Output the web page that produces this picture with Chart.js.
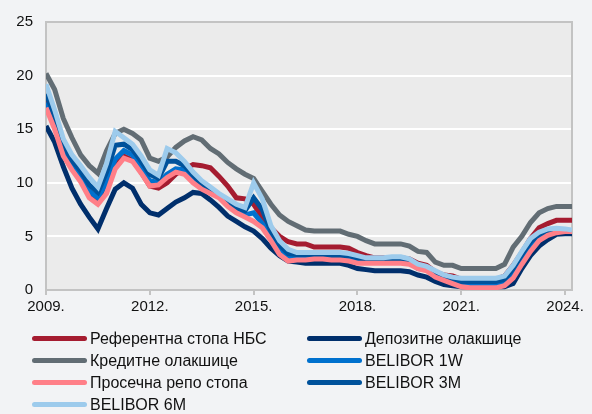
<!DOCTYPE html>
<html>
<head>
<meta charset="utf-8">
<script src="https://cdn.jsdelivr.net/npm/chart.js@4.4.1/dist/chart.umd.min.js"></script>
<style>
  body { margin: 0; background: #f2f3f5; font-family: "Liberation Sans", Arial, sans-serif; }
  #wrap { position: relative; width: 592px; height: 414px; }
  #legend .item { position: absolute; height: 20px; line-height: 20px; font-size: 16px; color: #111; white-space: nowrap; }
  #legend .swatch { position: absolute; left: 0; top: 7px; width: 55px; height: 5px; border-radius: 3px; }
  #legend .label { position: absolute; left: 58px; top: 0; }
</style>
</head>
<body>
<div id="wrap">
  <canvas id="ratesChart" width="592" height="414"></canvas>
  <div id="legend"></div>
</div>
<script>
// quarterly observations (decimal years)
const dates = [
  2009.0, 2009.25, 2009.5, 2009.75, 2010.0, 2010.25, 2010.5, 2010.75,
  2011.0, 2011.25, 2011.5, 2011.75, 2012.0, 2012.25, 2012.5, 2012.75,
  2013.0, 2013.25, 2013.5, 2013.75, 2014.0, 2014.25, 2014.5, 2014.75,
  2015.0, 2015.25, 2015.5, 2015.75, 2016.0, 2016.25, 2016.5, 2016.75,
  2017.0, 2017.25, 2017.5, 2017.75, 2018.0, 2018.25, 2018.5, 2018.75,
  2019.0, 2019.25, 2019.5, 2019.75, 2020.0, 2020.25, 2020.5, 2020.75,
  2021.0, 2021.25, 2021.5, 2021.75, 2022.0, 2022.25, 2022.5, 2022.75,
  2023.0, 2023.25, 2023.5, 2023.75, 2024.0, 2024.2
];

const keyRate = [
  17.75, 16.2, 13.7, 11.8,  10.3, 9.2, 8.2, 10.3,  12.0, 12.5, 12.1, 11.0,
  9.7, 9.5, 10.0, 10.8,  11.3, 11.7, 11.6, 11.4,  10.6, 9.7, 8.6, 8.5,
  8.0, 6.8, 5.8, 5.0,  4.5, 4.3, 4.3, 4.0,  4.0, 4.0, 4.0, 3.9,
  3.5, 3.2, 3.0, 3.0,  3.0, 3.0, 2.9, 2.5,  2.3, 1.7, 1.4, 1.3,
  1.0, 1.0, 1.0, 1.0,  1.0, 1.3, 2.3, 3.5,  4.8, 5.8, 6.2, 6.5,  6.5, 6.5
];
const depositRate = [
  15.3, 13.8, 11.5, 9.5,  8.0, 6.8, 5.7, 7.6,  9.4, 10.0, 9.5, 8.0,
  7.2, 7.0, 7.6, 8.2,  8.6, 9.1, 9.0, 8.4,  7.7, 6.9, 6.4, 5.9,
  5.5, 4.8, 3.9, 3.2,  2.7, 2.6, 2.5, 2.5,  2.5, 2.5, 2.5, 2.3,
  2.0, 1.9, 1.8, 1.8,  1.8, 1.8, 1.7, 1.4,  1.2, 0.8, 0.5, 0.4,
  0.3, 0.3, 0.3, 0.3,  0.3, 0.3, 0.6, 2.0,  3.2, 4.1, 4.7, 5.2,  5.25, 5.25
];
const lendingRate = [
  20.2, 18.7, 16.0, 14.2,  12.6, 11.6, 10.9, 13.0,  14.6, 15.0, 14.6, 14.0,
  12.3, 12.0, 12.4, 13.3,  13.9, 14.3, 14.0, 13.2,  12.7, 11.9, 11.3, 10.8,
  10.4, 9.2, 8.0, 7.0,  6.4, 6.0, 5.6, 5.5,  5.5, 5.5, 5.5, 5.2,
  5.0, 4.6, 4.3, 4.3,  4.3, 4.3, 4.1, 3.6,  3.5, 2.6, 2.3, 2.3,
  2.0, 2.0, 2.0, 2.0,  2.0, 2.4, 4.0, 5.0,  6.3, 7.2, 7.6, 7.8,  7.8, 7.8
];
const belibor1W = [
  17.5, 15.6, 13.0, 11.6,  10.6, 9.2, 8.6, 10.0,  12.2, 13.0, 12.6, 11.3,
  10.2, 10.0, 10.8, 11.3,  11.2, 10.3, 9.6, 9.2,  8.8, 8.0, 7.4, 7.0,
  7.2, 6.2, 5.0, 3.8,  3.1, 3.1, 3.1, 3.1,  3.1, 3.0, 3.0, 3.0,
  2.8, 2.7, 2.7, 2.7,  2.7, 2.7, 2.6, 2.0,  1.9, 1.3, 1.0, 0.8,
  0.6, 0.6, 0.6, 0.6,  0.6, 0.8, 1.6, 2.9,  4.0, 4.9, 5.3, 5.5,  5.5, 5.5
];
const repoRate = [
  17.0, 15.0, 12.5, 11.2,  10.1, 8.6, 8.0, 9.0,  11.3, 12.3, 12.0, 10.9,
  9.7, 9.8, 10.5, 11.0,  10.8, 10.0, 9.4, 9.0,  8.6, 7.8, 7.2, 6.8,
  6.4, 5.8, 4.6, 3.3,  2.7, 2.8, 2.8, 2.9,  2.9, 2.8, 2.8, 2.7,
  2.5, 2.5, 2.5, 2.5,  2.5, 2.5, 2.4, 2.0,  1.8, 1.2, 0.9, 0.6,
  0.3, 0.2, 0.2, 0.2,  0.2, 0.4, 1.1, 2.4,  3.6, 4.6, 5.1, 5.35,  5.45, 5.45
];
const belibor3M = [
  18.3, 16.2, 13.6, 12.1,  11.1, 9.8, 9.1, 11.0,  13.5, 13.6, 13.1, 12.0,
  10.8, 10.4, 12.0, 12.0,  11.6, 10.7, 9.9, 9.4,  8.9, 8.3, 7.7, 7.4,
  8.6, 7.5, 5.5, 4.2,  3.4, 3.3, 3.3, 3.3,  3.3, 3.2, 3.2, 3.2,
  3.0, 2.9, 2.9, 2.9,  2.9, 2.9, 2.7, 2.2,  2.0, 1.5, 1.2, 1.0,
  0.8, 0.8, 0.8, 0.8,  0.8, 1.0, 2.0, 3.3,  4.5, 5.2, 5.5, 5.6,  5.6, 5.5
];
const belibor6M = [
  19.2, 16.8, 14.1, 12.6,  11.6, 10.5, 9.6, 11.8,  14.8, 14.2, 13.6, 12.5,
  11.2, 10.7, 13.2, 12.8,  12.0, 11.0, 10.2, 9.6,  9.0, 8.5, 8.0, 7.7,
  10.0, 8.5, 6.0, 4.6,  3.8, 3.5, 3.5, 3.5,  3.5, 3.5, 3.5, 3.4,
  3.2, 3.0, 3.0, 3.0,  3.1, 3.1, 2.9, 2.4,  2.2, 1.8, 1.4, 1.2,
  1.1, 1.1, 1.1, 1.1,  1.1, 1.3, 2.3, 3.6,  4.8, 5.4, 5.7, 5.75,  5.7, 5.6
];

const xTicks = [2009, 2012, 2015, 2018, 2021, 2024];
const yTicks = [0, 5, 10, 15, 20, 25];

// legend order, colours and drawing order (0 = on top)
const series = [
  { label: 'Референтна стопа НБС', data: keyRate, color: '#a51c30', order: 6, col: 0, row: 0 },
  { label: 'Депозитне олакшице', data: depositRate, color: '#002f6c', order: 5, col: 1, row: 0 },
  { label: 'Кредитне олакшице', data: lendingRate, color: '#626d74', order: 4, col: 0, row: 1 },
  { label: 'BELIBOR 1W', data: belibor1W, color: '#0071ce', order: 3, col: 1, row: 1 },
  { label: 'Просечна репо стопа', data: repoRate, color: '#ff7f88', order: 1, col: 0, row: 2 },
  { label: 'BELIBOR 3M', data: belibor3M, color: '#00529b', order: 2, col: 1, row: 2 },
  { label: 'BELIBOR 6M', data: belibor6M, color: '#9dcbec', order: 0, col: 0, row: 3 }
];

// plot background and frame
const plotFrame = {
  id: 'plotFrame',
  beforeDraw(chart) {
    const { ctx, chartArea: a } = chart;
    ctx.save();
    ctx.fillStyle = '#ebebeb';
    ctx.fillRect(a.left, a.top, a.right - a.left, a.bottom - a.top);
    ctx.restore();
  },
  beforeDatasetsDraw(chart) {
    const { ctx, chartArea: a } = chart;
    ctx.save();
    ctx.strokeStyle = '#c3c3c3';
    ctx.lineWidth = 2;
    ctx.strokeRect(a.left, a.top, a.right - a.left, a.bottom - a.top);
    ctx.restore();
  }
};

const ctx = document.getElementById('ratesChart').getContext('2d');

new Chart(ctx, {
  type: 'line',
  data: {
    datasets: series.map(s => ({
      label: s.label,
      data: dates.map((d, i) => ({ x: d, y: s.data[i] })),
      borderColor: s.color,
      backgroundColor: s.color,
      borderWidth: 5,
      pointRadius: 0,
      tension: 0,
      order: s.order,
      clip: 0
    }))
  },
  options: {
    responsive: false,
    animation: false,
    layout: { padding: { top: 16, right: 20, left: 0, bottom: 0 } },
    plugins: { legend: { display: false }, tooltip: { enabled: false } },
    scales: {
      x: {
        type: 'linear',
        min: 2009,
        max: 2024.2,
        afterBuildTicks: scale => { scale.ticks = xTicks.map(v => ({ value: v })); },
        afterFit: scale => { scale.height = 124; },
        ticks: {
          callback: v => v + '.',
          color: '#111',
          font: { family: '"Liberation Sans", Arial', size: 15 },
          padding: 3,
          maxRotation: 0
        },
        grid: { drawOnChartArea: false, drawTicks: true, tickLength: 5, color: '#c3c3c3', lineWidth: 2 },
        border: { color: '#c3c3c3', width: 2 }
      },
      y: {
        min: 0,
        max: 25,
        afterBuildTicks: scale => { scale.ticks = yTicks.map(v => ({ value: v })); },
        afterFit: scale => { scale.width = 46; },
        ticks: {
          color: '#111',
          font: { family: '"Liberation Sans", Arial', size: 15 },
          padding: 13
        },
        grid: {
          drawTicks: false,
          lineWidth: 2,
          color: c => (c.tick.value === 0 || c.tick.value === 25) ? 'rgba(0,0,0,0)' : '#ffffff'
        },
        border: { color: '#c3c3c3', width: 2 }
      }
    }
  },
  plugins: [plotFrame]
});

// legend in two columns under the chart
const legend = document.getElementById('legend');
const colX = [32, 307];
const rowY = [329, 351, 373, 395];
series.forEach(s => {
  const item = document.createElement('div');
  item.className = 'item';
  item.style.left = colX[s.col] + 'px';
  item.style.top = rowY[s.row] + 'px';
  item.innerHTML = '<span class="swatch" style="background:' + s.color + '"></span><span class="label">' + s.label + '</span>';
  legend.appendChild(item);
});
</script>
</body>
</html>
